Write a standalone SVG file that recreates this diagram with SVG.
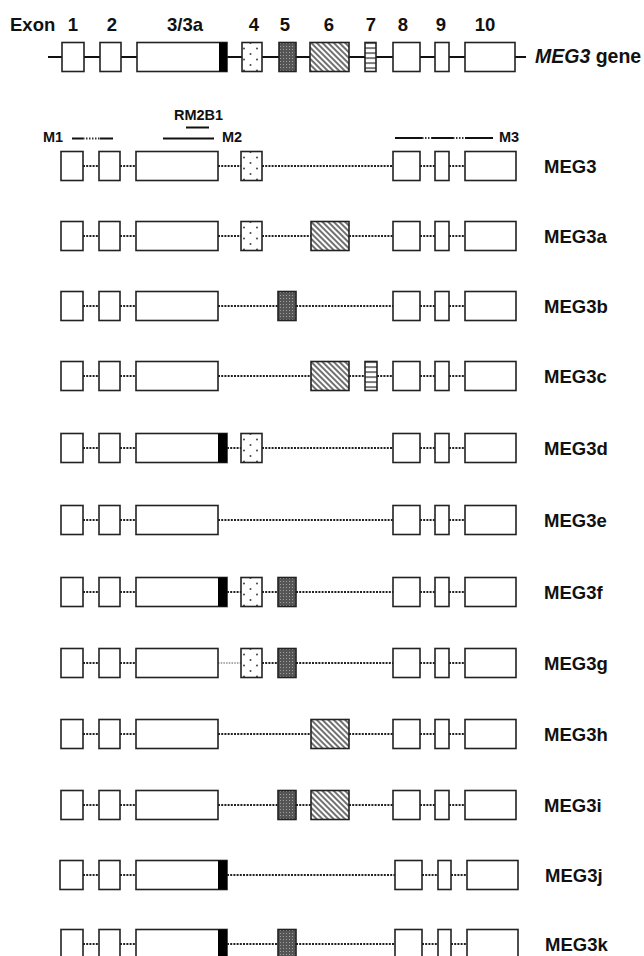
<svg xmlns="http://www.w3.org/2000/svg" width="644" height="956" viewBox="0 0 644 956">
  <defs>
    <!-- exon 4: sparse dots -->
    <pattern id="pDots" patternUnits="userSpaceOnUse" width="13" height="11" x="241" y="0">
      <rect width="13" height="11" fill="#fff"/>
      <circle cx="3" cy="2.5" r="1" fill="#444"/>
      <circle cx="9.5" cy="8" r="1" fill="#444"/>
    </pattern>
    <!-- exon 5: dark stippled grey -->
    <pattern id="pStipple" patternUnits="userSpaceOnUse" width="3" height="3">
      <rect width="3" height="3" fill="#555"/>
      <rect x="1" y="1" width="1" height="1" fill="#a0a0a0"/>
    </pattern>
    <!-- exon 6: diagonal hatching -->
    <pattern id="pHatch" patternUnits="userSpaceOnUse" width="4" height="4" patternTransform="rotate(45)">
      <rect width="4" height="4" fill="#fff"/>
      <line x1="0" y1="2" x2="4" y2="2" stroke="#333" stroke-width="1.4"/>
    </pattern>
    <!-- exon 7: horizontal stripes -->
    <pattern id="pStripe" patternUnits="userSpaceOnUse" width="6" height="5" y="0.5">
      <rect width="6" height="5" fill="#fff"/>
      <line x1="0" y1="0.5" x2="6" y2="0.5" stroke="#111" stroke-width="1.2"/>
    </pattern>
  </defs>
  <style>
    .ex { fill: #fff; stroke: #222; stroke-width: 1.6; }
    .e4 { fill: url(#pDots); stroke: #222; stroke-width: 1.6; }
    .e5 { fill: url(#pStipple); stroke: #222; stroke-width: 1.6; }
    .e6 { fill: url(#pHatch); stroke: #222; stroke-width: 1.6; }
    .e7 { fill: url(#pStripe); stroke: #222; stroke-width: 1.6; }
    .blk { fill: #000; }
    .intron { stroke: #222; stroke-width: 2.2; stroke-dasharray: 2 1.2; fill: none; }
    .thin { stroke: #555; stroke-width: 1.2; stroke-dasharray: 1.5 1.2; fill: none; }
    .gline { stroke: #111; stroke-width: 2; fill: none; }
    .primer { stroke: #111; stroke-width: 2; fill: none; }
    .pdot { stroke: #333; stroke-width: 2; stroke-dasharray: 1.5 1.5; fill: none; }
    .t { font-family: "Liberation Sans", Arial, sans-serif; font-weight: bold; fill: #111; }
    .big { font-size: 18.5px; }
    .small { font-size: 14.5px; }
    .lbl { font-size: 18.5px; }
  </style>

  <!-- header: exon numbering -->
  <g id="exon-numbers" class="t big">
    <text x="10" y="31">Exon</text>
    <text x="73" y="31" text-anchor="middle">1</text>
    <text x="112" y="31" text-anchor="middle">2</text>
    <text x="185" y="31" text-anchor="middle">3/3a</text>
    <text x="254" y="31" text-anchor="middle">4</text>
    <text x="285" y="31" text-anchor="middle">5</text>
    <text x="329" y="31" text-anchor="middle">6</text>
    <text x="371" y="31" text-anchor="middle">7</text>
    <text x="403" y="31" text-anchor="middle">8</text>
    <text x="441" y="31" text-anchor="middle">9</text>
    <text x="485" y="31" text-anchor="middle">10</text>
  </g>

  <!-- genomic locus -->
  <g id="gene" transform="translate(0,57)">
    <line class="gline" x1="48" y1="0" x2="526" y2="0"/>
    <rect class="ex" x="62" y="-14.5" width="22" height="29"/>
    <rect class="ex" x="100" y="-14.5" width="21" height="29"/>
    <rect class="ex" x="137" y="-14.5" width="90" height="29"/>
    <rect class="blk" x="219" y="-14.5" width="8" height="29"/>
    <rect class="e4" x="242" y="-14.5" width="20" height="29"/>
    <rect class="e5" x="279" y="-14.5" width="17" height="29"/>
    <rect class="e6" x="310" y="-14.5" width="39" height="29"/>
    <rect class="e7" x="365" y="-14.5" width="11" height="29"/>
    <rect class="ex" x="393" y="-14.5" width="27" height="29"/>
    <rect class="ex" x="435" y="-14.5" width="14" height="29"/>
    <rect class="ex" x="465" y="-14.5" width="50" height="29"/>
    <text class="t" font-size="19.5px" x="535" y="6"><tspan font-style="italic">MEG3</tspan> gene</text>
  </g>

  <!-- primers and probe -->
  <g id="primers">
    <text class="t small" x="43" y="142">M1</text>
    <line class="primer" x1="72" y1="138.5" x2="83" y2="138.5"/>
    <line class="pdot" x1="83" y1="138.5" x2="100" y2="138.5"/>
    <line class="primer" x1="100" y1="138.5" x2="113" y2="138.5"/>

    <text class="t small" x="174" y="120">RM2B1</text>
    <line class="primer" x1="186" y1="127.5" x2="209" y2="127.5"/>

    <line class="primer" x1="163" y1="138.5" x2="214" y2="138.5"/>
    <text class="t small" x="222" y="142">M2</text>

    <line class="primer" x1="395" y1="138" x2="422" y2="138"/>
    <line class="pdot" x1="422" y1="138" x2="432" y2="138"/>
    <line class="primer" x1="432" y1="138" x2="453" y2="138"/>
    <line class="pdot" x1="453" y1="138" x2="465" y2="138"/>
    <line class="primer" x1="465" y1="138" x2="493" y2="138"/>
    <text class="t small" x="499" y="142">M3</text>
  </g>

  <!-- splice connections between exons -->
  <g id="connectors">
    <g transform="translate(0,166)">
      <path class="intron" d="M83,0H99M120,0H136M218,0H241M262,0H393M420,0H435M449,0H465"/>
    </g>
    <g transform="translate(0,236)">
      <path class="intron" d="M83,0H99M120,0H136M218,0H241M262,0H311M349,0H393M420,0H435M449,0H465"/>
    </g>
    <g transform="translate(0,306)">
      <path class="intron" d="M83,0H99M120,0H136M218,0H278M296,0H393M420,0H435M449,0H465"/>
    </g>
    <g transform="translate(0,376)">
      <path class="intron" d="M83,0H99M120,0H136M218,0H311M349,0H365M377,0H393M420,0H435M449,0H465"/>
    </g>
    <g transform="translate(0,448)">
      <path class="intron" d="M83,0H99M120,0H136M227,0H241M262,0H393M420,0H435M449,0H465"/>
    </g>
    <g transform="translate(0,520)">
      <path class="intron" d="M83,0H99M120,0H136M218,0H393M420,0H435M449,0H465"/>
    </g>
    <g transform="translate(0,592)">
      <path class="intron" d="M83,0H99M120,0H136M227,0H241M262,0H278M296,0H393M420,0H435M449,0H465"/>
    </g>
    <g transform="translate(0,663)">
      <path class="thin" d="M218,0H241"/>
      <path class="intron" d="M83,0H99M120,0H136M262,0H278M296,0H393M420,0H435M449,0H465"/>
    </g>
    <g transform="translate(0,734)">
      <path class="intron" d="M83,0H99M120,0H136M218,0H311M349,0H393M420,0H435M449,0H465"/>
    </g>
    <g transform="translate(0,805)">
      <path class="intron" d="M83,0H99M120,0H136M218,0H278M296,0H311M349,0H393M420,0H435M449,0H465"/>
    </g>
    <g transform="translate(0,875)">
      <path class="intron" d="M83,0H99M120,0H136M227,0H395M422,0H438M451,0H467"/>
    </g>
    <g transform="translate(0,944)">
      <path class="intron" d="M83,0H99M120,0H136M227,0H278M296,0H395M422,0H438M451,0H467"/>
    </g>
  </g>

  <!-- transcript isoforms -->
  <g id="MEG3" transform="translate(0,166)">
    <rect class="ex" x="61" y="-14.5" width="22" height="29"/>
    <rect class="ex" x="99" y="-14.5" width="21" height="29"/>
    <rect class="ex" x="136" y="-14.5" width="82" height="29"/>
    <rect class="e4" x="241" y="-14.5" width="21" height="29"/>
    <rect class="ex" x="393" y="-14.5" width="27" height="29"/>
    <rect class="ex" x="435" y="-14.5" width="14" height="29"/>
    <rect class="ex" x="465" y="-14.5" width="51" height="29"/>
    <text class="t lbl" x="544" y="7">MEG3</text>
  </g>

  <g id="MEG3a" transform="translate(0,236)">
    <rect class="ex" x="61" y="-14.5" width="22" height="29"/>
    <rect class="ex" x="99" y="-14.5" width="21" height="29"/>
    <rect class="ex" x="136" y="-14.5" width="82" height="29"/>
    <rect class="e4" x="241" y="-14.5" width="21" height="29"/>
    <rect class="e6" x="311" y="-14.5" width="38" height="29"/>
    <rect class="ex" x="393" y="-14.5" width="27" height="29"/>
    <rect class="ex" x="435" y="-14.5" width="14" height="29"/>
    <rect class="ex" x="465" y="-14.5" width="51" height="29"/>
    <text class="t lbl" x="544" y="7">MEG3a</text>
  </g>

  <g id="MEG3b" transform="translate(0,306)">
    <rect class="ex" x="61" y="-14.5" width="22" height="29"/>
    <rect class="ex" x="99" y="-14.5" width="21" height="29"/>
    <rect class="ex" x="136" y="-14.5" width="82" height="29"/>
    <rect class="e5" x="278" y="-14.5" width="18" height="29"/>
    <rect class="ex" x="393" y="-14.5" width="27" height="29"/>
    <rect class="ex" x="435" y="-14.5" width="14" height="29"/>
    <rect class="ex" x="465" y="-14.5" width="51" height="29"/>
    <text class="t lbl" x="544" y="7">MEG3b</text>
  </g>

  <g id="MEG3c" transform="translate(0,376)">
    <rect class="ex" x="61" y="-14.5" width="22" height="29"/>
    <rect class="ex" x="99" y="-14.5" width="21" height="29"/>
    <rect class="ex" x="136" y="-14.5" width="82" height="29"/>
    <rect class="e6" x="311" y="-14.5" width="38" height="29"/>
    <rect class="e7" x="365" y="-14.5" width="12" height="29"/>
    <rect class="ex" x="393" y="-14.5" width="27" height="29"/>
    <rect class="ex" x="435" y="-14.5" width="14" height="29"/>
    <rect class="ex" x="465" y="-14.5" width="51" height="29"/>
    <text class="t lbl" x="544" y="7">MEG3c</text>
  </g>

  <g id="MEG3d" transform="translate(0,448)">
    <rect class="ex" x="61" y="-14.5" width="22" height="29"/>
    <rect class="ex" x="99" y="-14.5" width="21" height="29"/>
    <rect class="ex" x="136" y="-14.5" width="91" height="29"/>
    <rect class="blk" x="218" y="-14.5" width="9" height="29"/>
    <rect class="e4" x="241" y="-14.5" width="21" height="29"/>
    <rect class="ex" x="393" y="-14.5" width="27" height="29"/>
    <rect class="ex" x="435" y="-14.5" width="14" height="29"/>
    <rect class="ex" x="465" y="-14.5" width="51" height="29"/>
    <text class="t lbl" x="544" y="7">MEG3d</text>
  </g>

  <g id="MEG3e" transform="translate(0,520)">
    <rect class="ex" x="61" y="-14.5" width="22" height="29"/>
    <rect class="ex" x="99" y="-14.5" width="21" height="29"/>
    <rect class="ex" x="136" y="-14.5" width="82" height="29"/>
    <rect class="ex" x="393" y="-14.5" width="27" height="29"/>
    <rect class="ex" x="435" y="-14.5" width="14" height="29"/>
    <rect class="ex" x="465" y="-14.5" width="51" height="29"/>
    <text class="t lbl" x="544" y="7">MEG3e</text>
  </g>

  <g id="MEG3f" transform="translate(0,592)">
    <rect class="ex" x="61" y="-14.5" width="22" height="29"/>
    <rect class="ex" x="99" y="-14.5" width="21" height="29"/>
    <rect class="ex" x="136" y="-14.5" width="91" height="29"/>
    <rect class="blk" x="218" y="-14.5" width="9" height="29"/>
    <rect class="e4" x="241" y="-14.5" width="21" height="29"/>
    <rect class="e5" x="278" y="-14.5" width="18" height="29"/>
    <rect class="ex" x="393" y="-14.5" width="27" height="29"/>
    <rect class="ex" x="435" y="-14.5" width="14" height="29"/>
    <rect class="ex" x="465" y="-14.5" width="51" height="29"/>
    <text class="t lbl" x="544" y="7">MEG3f</text>
  </g>

  <g id="MEG3g" transform="translate(0,663)">
    <rect class="ex" x="61" y="-14.5" width="22" height="29"/>
    <rect class="ex" x="99" y="-14.5" width="21" height="29"/>
    <rect class="ex" x="136" y="-14.5" width="82" height="29"/>
    <rect class="e4" x="241" y="-14.5" width="21" height="29"/>
    <rect class="e5" x="278" y="-14.5" width="18" height="29"/>
    <rect class="ex" x="393" y="-14.5" width="27" height="29"/>
    <rect class="ex" x="435" y="-14.5" width="14" height="29"/>
    <rect class="ex" x="465" y="-14.5" width="51" height="29"/>
    <text class="t lbl" x="544" y="7">MEG3g</text>
  </g>

  <g id="MEG3h" transform="translate(0,734)">
    <rect class="ex" x="61" y="-14.5" width="22" height="29"/>
    <rect class="ex" x="99" y="-14.5" width="21" height="29"/>
    <rect class="ex" x="136" y="-14.5" width="82" height="29"/>
    <rect class="e6" x="311" y="-14.5" width="38" height="29"/>
    <rect class="ex" x="393" y="-14.5" width="27" height="29"/>
    <rect class="ex" x="435" y="-14.5" width="14" height="29"/>
    <rect class="ex" x="465" y="-14.5" width="51" height="29"/>
    <text class="t lbl" x="544" y="7">MEG3h</text>
  </g>

  <g id="MEG3i" transform="translate(0,805)">
    <rect class="ex" x="61" y="-14.5" width="22" height="29"/>
    <rect class="ex" x="99" y="-14.5" width="21" height="29"/>
    <rect class="ex" x="136" y="-14.5" width="82" height="29"/>
    <rect class="e5" x="278" y="-14.5" width="18" height="29"/>
    <rect class="e6" x="311" y="-14.5" width="38" height="29"/>
    <rect class="ex" x="393" y="-14.5" width="27" height="29"/>
    <rect class="ex" x="435" y="-14.5" width="14" height="29"/>
    <rect class="ex" x="465" y="-14.5" width="51" height="29"/>
    <text class="t lbl" x="544" y="7">MEG3i</text>
  </g>

  <g id="MEG3j" transform="translate(0,875)">
    <rect class="ex" x="60" y="-14.5" width="23" height="29"/>
    <rect class="ex" x="99" y="-14.5" width="21" height="29"/>
    <rect class="ex" x="136" y="-14.5" width="91" height="29"/>
    <rect class="blk" x="218" y="-14.5" width="9" height="29"/>
    <rect class="ex" x="395" y="-14.5" width="27" height="29"/>
    <rect class="ex" x="438" y="-14.5" width="13" height="29"/>
    <rect class="ex" x="467" y="-14.5" width="51" height="29"/>
    <text class="t lbl" x="545" y="7">MEG3j</text>
  </g>

  <g id="MEG3k" transform="translate(0,944)">
    <rect class="ex" x="61" y="-14.5" width="22" height="29"/>
    <rect class="ex" x="99" y="-14.5" width="21" height="29"/>
    <rect class="ex" x="136" y="-14.5" width="91" height="29"/>
    <rect class="blk" x="218" y="-14.5" width="9" height="29"/>
    <rect class="e5" x="278" y="-14.5" width="18" height="29"/>
    <rect class="ex" x="395" y="-14.5" width="27" height="29"/>
    <rect class="ex" x="438" y="-14.5" width="13" height="29"/>
    <rect class="ex" x="467" y="-14.5" width="51" height="29"/>
    <text class="t lbl" x="545" y="7">MEG3k</text>
  </g>
</svg>
